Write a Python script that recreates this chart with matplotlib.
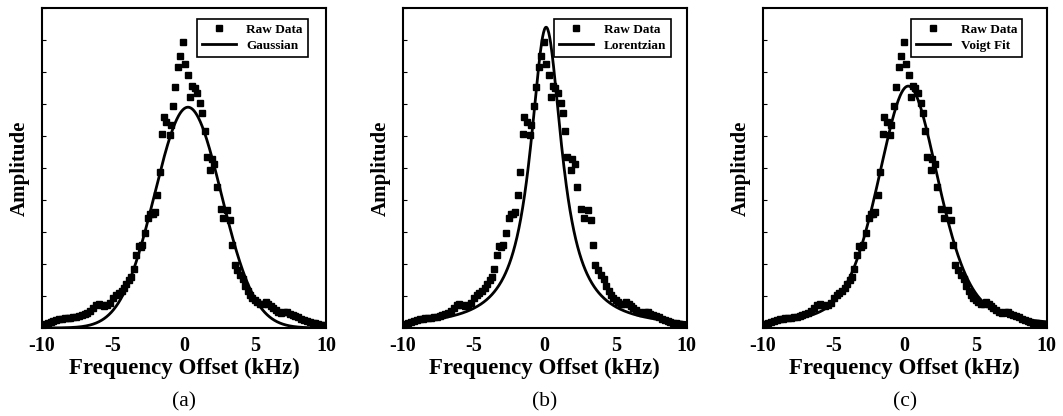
import numpy as np
import matplotlib
matplotlib.use('Agg')
import matplotlib.pyplot as plt

plt.rcParams['font.family'] = 'Liberation Serif'

# raw spectrum (same in all three panels), amplitude normalised to full axis height
raw_freq = [-10.0, -9.8, -9.6, -9.4, -9.2, -9.0, -8.8, -8.6, -8.4, -8.2, -8.0, -7.8, -7.6, -7.4,
            -7.2, -7.0, -6.8, -6.6, -6.4, -6.2, -6.0, -5.8, -5.6, -5.4, -5.2, -5.0, -4.8, -4.6,
            -4.4, -4.2, -4.05, -3.85, -3.7, -3.55, -3.38, -3.2, -3.05, -2.93, -2.72, -2.53, -2.40,
            -2.20, -2.06, -1.87, -1.71, -1.54, -1.43, -1.24, -1.02, -0.95, -0.76, -0.60, -0.41,
            -0.25, -0.06, 0.06, 0.30, 0.41, 0.58, 0.76, 0.93, 1.12, 1.29, 1.45, 1.59, 1.82, 1.94,
            2.11, 2.30, 2.58, 2.77, 3.02, 3.27, 3.41, 3.57, 3.76, 3.97, 4.15, 4.32, 4.50, 4.66,
            4.82, 5.0, 5.17, 5.35, 5.55, 5.75, 5.92, 6.10, 6.25, 6.45, 6.65, 6.85, 7.05, 7.25,
            7.45, 7.65, 7.85, 8.05, 8.25, 8.45, 8.65, 8.85, 9.05, 9.25, 9.45, 9.65, 9.85, 10.0]
raw_amp = [0.009, 0.012, 0.016, 0.020, 0.023, 0.025, 0.027, 0.029, 0.030, 0.031, 0.032, 0.033,
           0.035, 0.037, 0.040, 0.043, 0.048, 0.054, 0.062, 0.071, 0.076, 0.073, 0.070, 0.071,
           0.078, 0.094, 0.102, 0.109, 0.115, 0.126, 0.139, 0.150, 0.160, 0.184, 0.229, 0.255,
           0.254, 0.259, 0.296, 0.343, 0.355, 0.357, 0.362, 0.416, 0.487, 0.605, 0.660, 0.643,
           0.603, 0.634, 0.694, 0.752, 0.815, 0.850, 0.895, 0.824, 0.791, 0.723, 0.757, 0.749,
           0.733, 0.704, 0.671, 0.617, 0.535, 0.494, 0.528, 0.512, 0.442, 0.372, 0.343, 0.369,
           0.338, 0.258, 0.196, 0.181, 0.167, 0.152, 0.131, 0.115, 0.104, 0.093, 0.087, 0.082,
           0.076, 0.075, 0.080, 0.075, 0.068, 0.064, 0.055, 0.050, 0.048, 0.049, 0.050, 0.045,
           0.040, 0.036, 0.033, 0.029, 0.026, 0.023, 0.020, 0.017, 0.015, 0.012, 0.010, 0.008,
           0.006]

# fit parameters
gauss_amp, gauss_center, gauss_sigma = 0.69, 0.28, 2.35
lor_amp, lor_center, lor_gamma = 0.94, 0.10, 1.35
voigt_amp, voigt_center, voigt_hwhm, voigt_eta = 0.756, 0.25, 2.55, 0.4

fit_names = ['Gaussian', 'Lorentzian', 'Voigt Fit']
panel_tags = ['(a)', '(b)', '(c)']


def gaussian(x):
    return gauss_amp * np.exp(-(x - gauss_center) ** 2 / (2 * gauss_sigma ** 2))


def lorentzian(x):
    return lor_amp / (1 + ((x - lor_center) / lor_gamma) ** 2)


def pseudo_voigt(x):
    u = (x - voigt_center) / voigt_hwhm
    g = np.exp(-np.log(2) * u ** 2)
    l = 1 / (1 + u ** 2)
    return voigt_amp * (voigt_eta * l + (1 - voigt_eta) * g)


models = [gaussian, lorentzian, pseudo_voigt]

fig = plt.figure(figsize=(10.63, 4.16), dpi=100)
lefts = [42 / 1063, 402.7 / 1063, 762.7 / 1063]
legend_x = [0.935, 0.944, 0.912]
xs = np.linspace(-10, 10, 600)

for i in range(3):
    ax = fig.add_axes([lefts[i], 88 / 416, 284 / 1063, 320 / 416])
    ax.plot(raw_freq, raw_amp, 's', color='black', markersize=4.5, label='Raw Data')
    ax.plot(xs, models[i](xs), '-', color='black', linewidth=2.0, label=fit_names[i])
    ax.set_xlim(-10, 10)
    ax.set_ylim(0, 1)
    ax.set_xticks([-10, -5, 0, 5, 10])
    ax.set_xticklabels(['-10', '-5', '0', '5', '10'], fontsize=14.5, fontweight='bold')
    ax.tick_params(axis='x', length=0, pad=6)
    ax.set_yticks(np.arange(0, 1.01, 0.1))
    ax.set_yticklabels([])
    ax.tick_params(axis='y', direction='in', length=3, width=0.8)
    for sp in ax.spines.values():
        sp.set_linewidth(1.5)
    ax.set_xlabel('Frequency Offset (kHz)', fontsize=16.5, fontweight='bold', labelpad=1)
    ax.set_ylabel('Amplitude', fontsize=15, fontweight='bold', labelpad=5)
    leg = ax.legend(loc='upper right', bbox_to_anchor=(legend_x[i], 0.966),
                    prop={'weight': 'bold', 'size': 9.5}, fancybox=False,
                    edgecolor='black', framealpha=1, handlelength=2.6,
                    borderpad=0.35, labelspacing=0.3, handletextpad=0.8,
                    borderaxespad=0)
    leg.get_frame().set_linewidth(1.2)
    fig.text(lefts[i] + 142 / 1063, 14 / 416, panel_tags[i], ha='center', va='center',
             fontsize=15.5)

plt.savefig('out.png', dpi=100)
plt.close()
